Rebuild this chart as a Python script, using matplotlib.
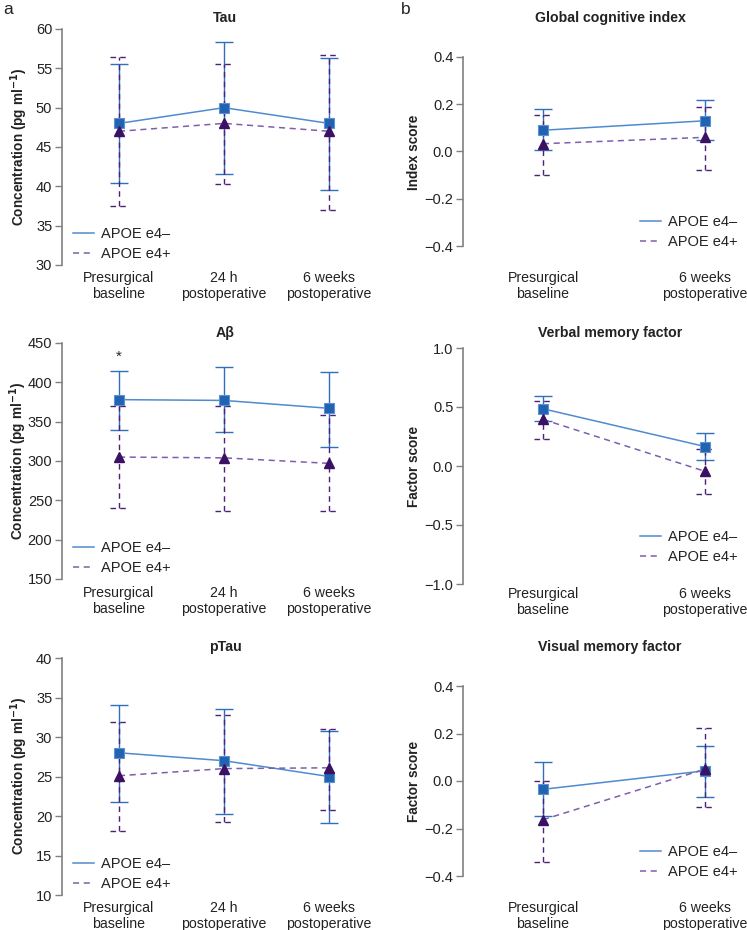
import numpy as np
import matplotlib
matplotlib.use('Agg')
from matplotlib import pyplot as plt
from matplotlib.lines import Line2D

plt.rcParams['font.family'] = ['Liberation Sans', 'DejaVu Sans']

W, H = 747, 930

# x categories
times_a = ['Presurgical\nbaseline', '24 h\npostoperative', '6 weeks\npostoperative']
times_b = ['Presurgical\nbaseline', '6 weeks\npostoperative']

# a: CSF biomarkers (mean, lower and upper error)
tau_neg = [48, 50, 48]
tau_neg_lo = [40.4, 41.6, 39.5]
tau_neg_hi = [55.6, 58.4, 56.3]
tau_pos = [47, 48, 47]
tau_pos_lo = [37.5, 40.3, 37.0]
tau_pos_hi = [56.5, 55.5, 56.7]

ab_neg = [378, 377, 367]
ab_neg_lo = [340, 337, 318]
ab_neg_hi = [415, 420, 413]
ab_pos = [305, 304, 297]
ab_pos_lo = [240, 236, 236]
ab_pos_hi = [370, 370, 358]

ptau_neg = [28, 27, 25]
ptau_neg_lo = [21.8, 20.3, 19.1]
ptau_neg_hi = [34.0, 33.5, 30.8]
ptau_pos = [25.1, 26.0, 26.1]
ptau_pos_lo = [18.1, 19.2, 20.7]
ptau_pos_hi = [31.9, 32.8, 31.0]

# b: cognition scores
gci_neg = [0.09, 0.13]
gci_neg_lo = [0.005, 0.048]
gci_neg_hi = [0.178, 0.22]
gci_pos = [0.033, 0.06]
gci_pos_lo = [-0.101, -0.079]
gci_pos_hi = [0.153, 0.189]

verbal_neg = [0.485, 0.165]
verbal_neg_lo = [0.385, 0.05]
verbal_neg_hi = [0.59, 0.28]
verbal_pos = [0.395, -0.045]
verbal_pos_lo = [0.229, -0.237]
verbal_pos_hi = [0.55, 0.147]

visual_neg = [-0.035, 0.043]
visual_neg_lo = [-0.149, -0.067]
visual_neg_hi = [0.078, 0.147]
visual_pos = [-0.163, 0.05]
visual_pos_lo = [-0.342, -0.108]
visual_pos_hi = [0.0, 0.222]

BLUE_LINE = '#4f8bcf'
BLUE_BAR = '#2f6fbb'
BLUE_MK = '#2162b1'
PURP_LINE = '#7d5fab'
PURP_BAR = '#4a2379'
PURP_MK = '#3a1163'
GREY = '#808080'
DASH = (0, (4, 3))

fig = plt.figure(figsize=(W / 100, H / 100), dpi=100)


def add_axes(left, top, right, bottom):
    return fig.add_axes([left / W, 1 - bottom / H, (right - left) / W, (bottom - top) / H])


def fmt(v, dec):
    s = f'{v:.{dec}f}'
    if float(s) == 0:
        s = f'{0:.{dec}f}'
    return s.replace('-', '\u2212')


def panel(ax, labels, neg, neg_lo, neg_hi, pos, pos_lo, pos_hi,
          ylim, yticks, dec, x0_px, step_px, left_px, right_px, pad):
    x = np.arange(len(labels))
    ax.set_xlim(-(x0_px - left_px) / step_px, (right_px - x0_px) / step_px)
    ax.set_ylim(*ylim)
    cw = 9 / step_px

    ax.vlines(x, neg_lo, neg_hi, color=BLUE_BAR, lw=1, zorder=2)
    ax.hlines(neg_lo, x - cw, x + cw, color=BLUE_BAR, lw=1, zorder=2)
    ax.hlines(neg_hi, x - cw, x + cw, color=BLUE_BAR, lw=1, zorder=2)
    ax.plot(x, neg, color=BLUE_LINE, lw=1.1, zorder=3)

    ax.vlines(x, pos_lo, pos_hi, color=PURP_BAR, lw=1, linestyles=DASH, zorder=4)
    ax.hlines(pos_lo, x - cw, x + cw, color=PURP_BAR, lw=1, linestyles=DASH, zorder=4)
    ax.hlines(pos_hi, x - cw, x + cw, color=PURP_BAR, lw=1, linestyles=DASH, zorder=4)
    ax.plot(x, pos, color=PURP_LINE, lw=1.1, linestyle=DASH, zorder=4)

    ax.plot(x, neg, 's', color=BLUE_MK, ms=6.8, mec='#5a92d4', mew=0.8, zorder=5)
    ax.plot(x, pos, '^', color=PURP_MK, ms=7.6, mec=PURP_MK, zorder=6)

    for s in ['top', 'right', 'bottom']:
        ax.spines[s].set_visible(False)
    ax.spines['left'].set_color(GREY)
    ax.spines['left'].set_linewidth(1.2)
    ax.set_yticks(yticks)
    ax.set_yticklabels([fmt(t, dec) for t in yticks])
    ax.set_xticks(x)
    ax.set_xticklabels(labels)
    ax.tick_params(axis='y', colors=GREY, length=5, width=1, labelsize=10.5,
                   labelcolor='#222222', pad=2)
    ax.tick_params(axis='x', length=0, labelsize=10.2, labelcolor='#222222', pad=pad)
    ax.patch.set_visible(False)


def legend(x_px, y_px):
    handles = [Line2D([], [], color=BLUE_LINE, lw=1.1),
               Line2D([], [], color=PURP_LINE, lw=1.1, linestyle=DASH)]
    fig.legend(handles, ['APOE e4\u2013', 'APOE e4+'], loc='lower left',
               bbox_to_anchor=(x_px / W, 1 - y_px / H), bbox_transform=fig.transFigure,
               frameon=False, fontsize=10.5, borderpad=0, borderaxespad=0,
               handlelength=1.45, handletextpad=0.45, labelspacing=0.4,
               labelcolor='#222222')


def title(x_px, y_px, text):
    fig.text(x_px / W, 1 - y_px / H, text, ha='center', va='center',
             fontsize=10.2, fontweight='bold', color='#222222')


def ylabel(x_px, y_px, text):
    fig.text(x_px / W, 1 - y_px / H, text, ha='center', va='center', rotation=90,
             fontsize=9.8, fontweight='bold', color='#222222')


conc = 'Concentration (pg ml$^{\\mathbf{-1}}$)'

# ---- column a
ax = add_axes(62, 29, 360, 265)
panel(ax, times_a, tau_neg, tau_neg_lo, tau_neg_hi, tau_pos, tau_pos_lo, tau_pos_hi,
      (30, 60), [30, 35, 40, 45, 50, 55, 60], 0, 119, 105, 62, 360, 4)
title(225, 18, 'Tau')
ylabel(19, 147, conc)
legend(73, 261)

ax = add_axes(62, 343, 360, 579)
panel(ax, times_a, ab_neg, ab_neg_lo, ab_neg_hi, ab_pos, ab_pos_lo, ab_pos_hi,
      (150, 450), [150, 200, 250, 300, 350, 400, 450], 0, 119, 105, 62, 360, 5)
ax.annotate('*', xy=(0, ab_neg_hi[0]), xytext=(0, 5), textcoords='offset points',
            ha='center', va='bottom', fontsize=11, color='#222222')
title(225, 333, 'A\u03b2')
ylabel(18, 461, conc)
legend(73, 575)

ax = add_axes(62, 658, 360, 895)
panel(ax, times_a, ptau_neg, ptau_neg_lo, ptau_neg_hi, ptau_pos, ptau_pos_lo, ptau_pos_hi,
      (10, 40), [10, 15, 20, 25, 30, 35, 40], 0, 119, 105, 62, 360, 4)
title(225, 647, 'pTau')
ylabel(19, 776, conc)
legend(73, 891)

# ---- column b
ax = add_axes(463, 57, 740, 246)
panel(ax, times_b, gci_neg, gci_neg_lo, gci_neg_hi, gci_pos, gci_pos_lo, gci_pos_hi,
      (-0.4, 0.4), [-0.4, -0.2, 0.0, 0.2, 0.4], 1, 543, 162, 463, 740, 18)
title(610, 18, 'Global cognitive index')
ylabel(414, 152, 'Index score')
legend(640, 249)

ax = add_axes(463, 348, 740, 584)
panel(ax, times_b, verbal_neg, verbal_neg_lo, verbal_neg_hi, verbal_pos, verbal_pos_lo,
      verbal_pos_hi, (-1.0, 1.0), [-1.0, -0.5, 0.0, 0.5, 1.0], 1, 543, 162, 463, 740, 2)
title(610, 333, 'Verbal memory factor')
ylabel(414, 466, 'Factor score')
legend(640, 564)

ax = add_axes(463, 686, 740, 876)
panel(ax, times_b, visual_neg, visual_neg_lo, visual_neg_hi, visual_pos, visual_pos_lo,
      visual_pos_hi, (-0.4, 0.4), [-0.4, -0.2, 0.0, 0.2, 0.4], 1, 543, 162, 463, 740, 18)
title(610, 647, 'Visual memory factor')
ylabel(414, 781, 'Factor score')
legend(640, 879)

fig.text(3 / W, 1 - 10 / H, 'a', ha='left', va='center', fontsize=12.5, color='#222222')
fig.text(401 / W, 1 - 10 / H, 'b', ha='left', va='center', fontsize=12.5, color='#222222')

fig.savefig('out.png', dpi=100)
